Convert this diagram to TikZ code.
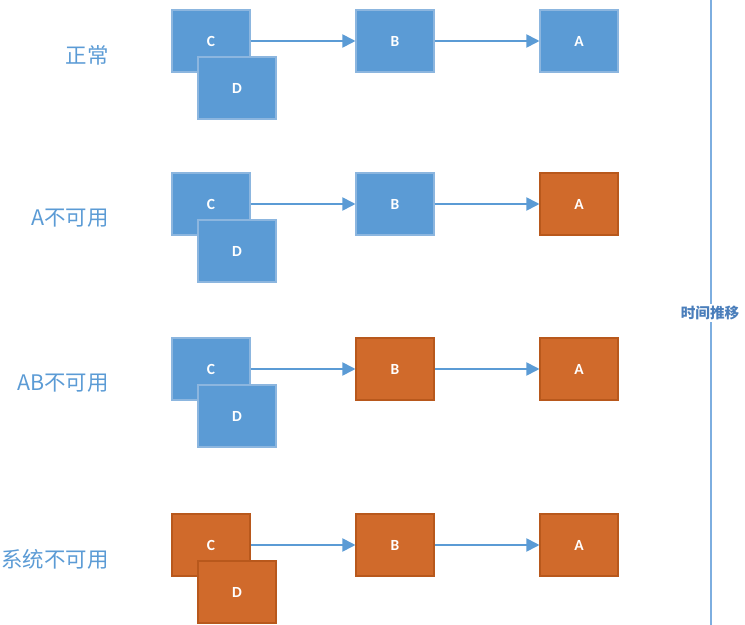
\documentclass[tikz,border=0pt]{standalone}
\usepackage{fontspec}
\setsansfont{Carlito}
\newfontfamily\cjk{Noto Sans CJK SC}
\usetikzlibrary{arrows.meta}

\begin{document}
\begin{tikzpicture}[
    x=0.02cm, y=-0.02cm,
    every node/.style={font=\sffamily},
]

% ---------------------------------------------------------------- colours
\definecolor{upfill}{HTML}{5B9BD5}     % service still available
\definecolor{updraw}{HTML}{8CB6DF}
\definecolor{downfill}{HTML}{D06A2B}   % service down
\definecolor{downdraw}{HTML}{B8581C}
\definecolor{linkcolor}{HTML}{5B9BD5}
\definecolor{labelcolor}{HTML}{5B9BD5}
\definecolor{timecolor}{HTML}{4A7EBB}
\definecolor{timeline}{HTML}{7DAEE0}

% ---------------------------------------------------------------- styles
\tikzset{
    svc/.style={
        rectangle, minimum width=1.56cm, minimum height=1.24cm,
        line width=0.6pt, text=white,
        font=\sffamily\bfseries\fontsize{8.8}{10}\selectfont,
    },
    up/.style={svc, fill=upfill, draw=updraw},
    down/.style={svc, fill=downfill, draw=downdraw},
    link/.style={-{Triangle[length=7.5pt, width=7.5pt]}, line width=1pt, linkcolor},
    rowlabel/.style={anchor=east, text=labelcolor, inner sep=0pt,
        font=\cjk\fontsize{12.2}{14}\selectfont},
}

\useasboundingbox (0,0) rectangle (745,625);

% ================================================================
% GEOMETRY (units of one pixel of the 745 x 625 page)
%   C box  centre x = 211,  D box  +26 / +47 from C
%   B box  centre x = 395,  A box  centre x = 579
%   rows   y = 41, 204, 369, 545
%   time line x = 711
% ================================================================

% ---------------------------------------------------------------- rows
\foreach \r/\y/\lab/\cc/\cb/\ca in {
    1/41/正常/up/up/up,
    2/204/A不可用/up/up/down,
    3/369/AB不可用/up/down/down,
    4/545/系统不可用/down/down/down} {
    \node[rowlabel] (l\r) at (109, \y+14) {\lab};
    \node[\cc] (c\r) at (211, \y) {C};
    \node[\cb] (b\r) at (395, \y) {B};
    \node[\ca] (a\r) at (579, \y) {A};
    \draw[link] (c\r.east) -- (b\r.west);
    \draw[link] (b\r.east) -- (a\r.west);
    \node[\cc] (d\r) at (237, \y+47) {D};
}

% ---------------------------------------------------------------- time axis
\coordinate (ttop) at (711, 0);
\coordinate (tbot) at (711, 625);
\draw[timeline, line width=1.1pt] (ttop) -- (tbot);
\node[fill=white, inner sep=1pt, text=timecolor,
      font=\cjk\bfseries\fontsize{8.3}{10}\selectfont] (tlabel)
    at (710, 313) {时间推移};

\end{tikzpicture}
\end{document}
